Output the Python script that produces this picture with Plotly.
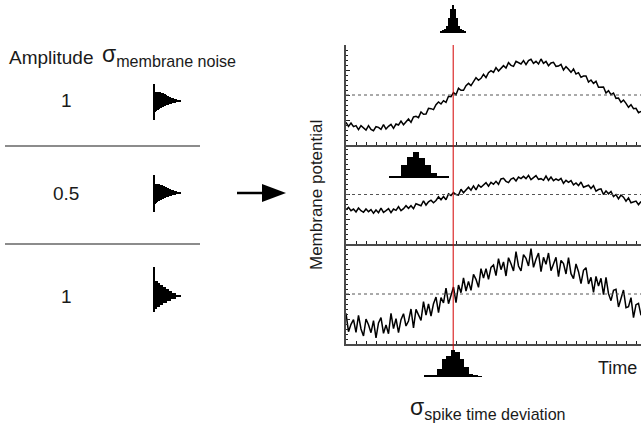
import plotly.graph_objects as go

W, H = 641, 424


def px(x):
    return x / W


def py(y):
    return 1 - y / H


# ---------------- data ----------------
TIME_STEP = 0.25  # time units per sample (1 unit = one tick on the time axis)

trace_top = [
    -0.82, -0.94, -0.84, -0.95, -0.92, -1.04, -0.92, -0.98, -1.05, -0.92,
    -1.03, -1.07, -0.95, -0.97, -1.03, -0.89, -1.02, -0.94, -0.88, -1.00,
    -0.87, -0.90, -0.78, -0.89, -0.80, -0.72, -0.82, -0.66, -0.64, -0.68,
    -0.51, -0.58, -0.57, -0.40, -0.41, -0.44, -0.29, -0.21, -0.27, -0.17,
    -0.22, -0.04, -0.05, 0.07, 0.01, 0.20, 0.14, 0.14, 0.28, 0.35,
    0.28, 0.40, 0.52, 0.44, 0.50, 0.62, 0.52, 0.67, 0.73, 0.68,
    0.82, 0.72, 0.81, 0.88, 0.81, 0.97, 0.89, 0.86, 1.01, 0.98,
    0.93, 1.03, 0.91, 1.03, 1.07, 0.95, 1.01, 0.93, 1.08, 0.95,
    1.01, 0.88, 0.96, 0.98, 0.86, 0.87, 0.92, 0.75, 0.85, 0.77,
    0.68, 0.78, 0.63, 0.67, 0.53, 0.57, 0.57, 0.39, 0.45, 0.35,
    0.41, 0.23, 0.24, 0.24, 0.06, 0.13, 0.01, 0.06, -0.10, -0.09,
    -0.22, -0.15, -0.25, -0.37, -0.29, -0.41, -0.40, -0.53, -0.49,
]

trace_mid = [
    -0.46, -0.39, -0.49, -0.44, -0.53, -0.41, -0.49, -0.54, -0.44, -0.52,
    -0.46, -0.57, -0.47, -0.55, -0.41, -0.54, -0.49, -0.43, -0.55, -0.44,
    -0.48, -0.37, -0.49, -0.43, -0.34, -0.42, -0.34, -0.43, -0.28, -0.31,
    -0.34, -0.19, -0.32, -0.22, -0.17, -0.25, -0.18, -0.07, -0.16, -0.06,
    -0.16, 0.02, -0.03, 0.06, 0.00, -0.02, 0.16, 0.05, 0.15, 0.22,
    0.13, 0.26, 0.14, 0.29, 0.22, 0.28, 0.36, 0.25, 0.37, 0.31,
    0.40, 0.31, 0.47, 0.49, 0.40, 0.36, 0.47, 0.50, 0.41, 0.53,
    0.48, 0.55, 0.48, 0.58, 0.45, 0.51, 0.57, 0.46, 0.48, 0.43,
    0.56, 0.43, 0.53, 0.42, 0.47, 0.43, 0.49, 0.34, 0.43, 0.37,
    0.42, 0.29, 0.35, 0.27, 0.38, 0.22, 0.25, 0.28, 0.18, 0.27,
    0.10, 0.15, 0.17, 0.00, 0.11, 0.02, 0.09, -0.06, 0.00, -0.13,
    -0.02, -0.08, -0.20, -0.10, -0.25, -0.23, -0.20, -0.31, -0.21,
]

trace_bot = [
    -0.58, -1.13, -0.91, -0.77, -1.15, -0.64, -1.05, -1.26, -0.75, -0.92,
    -1.16, -0.80, -1.32, -0.87, -0.71, -1.18, -0.93, -1.19, -0.58, -1.04,
    -0.74, -1.16, -0.77, -0.59, -0.96, -0.81, -0.45, -1.02, -0.46, -0.63,
    -0.79, -0.23, -0.63, -0.30, -0.66, -0.29, -0.09, -0.56, -0.11, -0.27,
    0.18, -0.29, 0.00, 0.21, -0.26, 0.27, 0.04, 0.48, 0.09, 0.38,
    0.11, 0.59, 0.44, 0.20, 0.76, 0.48, 0.76, 0.44, 0.80, 0.87,
    0.55, 1.06, 0.73, 0.96, 0.54, 1.09, 0.91, 0.69, 1.27, 0.84,
    0.69, 1.18, 1.07, 0.84, 1.36, 0.80, 1.04, 1.23, 0.67, 1.10,
    0.89, 1.23, 0.70, 0.92, 1.10, 0.52, 1.01, 0.91, 0.60, 1.09,
    0.61, 0.46, 0.90, 0.67, 0.31, 0.71, 0.79, 0.30, 0.50, 0.05,
    0.53, 0.24, 0.47, -0.02, 0.50, 0.01, -0.20, 0.11, 0.14, -0.39,
    -0.12, 0.12, -0.41, -0.38, -0.11, -0.71, -0.32, -0.28, -0.64,
]

time = [round(i * TIME_STEP, 2) for i in range(len(trace_top))]

spike_time = 10.72
threshold = 0.0

# spike-time histograms (bin centres on the time axis, counts)
top_spike_bins = [9.5, 9.7, 9.9, 10.1, 10.3, 10.5, 10.7, 10.9, 11.1, 11.3, 11.5, 11.7, 11.9]
top_spike_counts = [2, 3, 4, 7, 15, 24, 28, 24, 15, 7, 4, 3, 2]
top_spike_width = 0.2

mid_spike_bins = [4.6, 5.2, 5.8, 6.4, 7.0, 7.6, 8.2, 8.8, 9.4, 10.0]
mid_spike_counts = [2, 2, 13, 22, 27, 21, 13, 5, 2, 2]
mid_spike_width = 0.6

bot_spike_bins = [8.0, 8.45, 8.9, 9.35, 9.8, 10.25, 10.7, 11.15, 11.6, 12.05, 12.5, 12.95, 13.4]
bot_spike_counts = [2, 2, 2, 8, 18, 21, 27, 25, 18, 10, 3, 2, 1]
bot_spike_width = 0.45

# membrane-noise histograms (value bins, counts)
noise1_bins = [8, 7, 6, 5, 4, 3, 2, 1, 0, -1, -2, -3, -4, -5, -6, -7, -8, -9, -10]
noise1_counts = [6, 9, 11, 12, 14, 16, 19, 22, 26, 21, 17, 14, 11, 9, 7, 5, 4, 2, 1]
noise2_bins = [8, 7, 6, 5, 4, 3, 2, 1, 0, -1, -2, -3, -4, -5, -6, -7, -8, -9, -10]
noise2_counts = [5, 8, 10, 12, 14, 16, 19, 22, 26, 21, 17, 14, 11, 9, 7, 5, 3, 2, 1]
noise3_bins = [14, 12, 10, 8, 6, 4, 2, 0, -2, -4, -6, -8, -10, -12]
noise3_counts = [3, 5, 8, 11, 14, 17, 21, 26, 21, 16, 12, 8, 5, 2]

amplitudes = ["1", "0.5", "1"]

# ---------------- figure ----------------
FONT = "Liberation Sans, Arial, Helvetica, sans-serif"
INK = "#1a1a1a"
AXC = "#4a4a4a"

fig = go.Figure()

panel_px = [(45, 145), (145, 244), (244, 344)]
traces = [trace_top, trace_mid, trace_bot]
for k, tr in enumerate(traces, start=1):
    fig.add_trace(go.Scatter(x=time, y=tr, mode="lines",
                             line=dict(color="black", width=1.5),
                             xaxis=f"x{k}" if k > 1 else "x",
                             yaxis=f"y{k}" if k > 1 else "y",
                             hoverinfo="skip", showlegend=False))

hist_specs = [
    (4, top_spike_bins, top_spike_counts, top_spike_width, (5, 33)),
    (5, mid_spike_bins, mid_spike_counts, mid_spike_width, (151, 178)),
    (6, bot_spike_bins, bot_spike_counts, bot_spike_width, (349, 377)),
]
for k, bins, counts, wdt, _ in hist_specs:
    fig.add_trace(go.Bar(x=bins, y=counts, width=wdt,
                         marker=dict(color="black", line=dict(width=0)),
                         xaxis=f"x{k}", yaxis=f"y{k}",
                         hoverinfo="skip", showlegend=False))

noise_specs = [
    (7, noise1_bins, noise1_counts, 1.0, (84, 120), 101),
    (8, noise2_bins, noise2_counts, 1.0, (175, 212), 193),
    (9, noise3_bins, noise3_counts, 2.0, (267, 312), 296),
]
for k, bins, counts, wdt, _, _ in noise_specs:
    fig.add_trace(go.Bar(y=bins, x=counts, width=wdt, orientation="h",
                         marker=dict(color="black", line=dict(width=0)),
                         xaxis=f"x{k}", yaxis=f"y{k}",
                         hoverinfo="skip", showlegend=False))

layout = dict(
    width=W, height=H,
    margin=dict(l=0, r=0, t=0, b=0),
    paper_bgcolor="white", plot_bgcolor="rgba(0,0,0,0)",
    bargap=0, showlegend=False,
    font=dict(family=FONT, color=INK),
)

# membrane potential panels
for k, (top, bot) in enumerate(panel_px, start=1):
    xn = "xaxis" if k == 1 else f"xaxis{k}"
    yn = "yaxis" if k == 1 else f"yaxis{k}"
    layout[xn] = dict(domain=[px(346), 1], range=[0, 29.5],
                      anchor="y" if k == 1 else f"y{k}",
                      showline=True, linecolor=AXC, linewidth=1.5,
                      ticks="inside", ticklen=3, tickcolor="#222", tickwidth=1,
                      tick0=0, dtick=1, showticklabels=False,
                      showgrid=False, zeroline=False, fixedrange=True)
    layout[yn] = dict(domain=[py(bot), py(top)], range=[-1.5, 1.5],
                      anchor="x" if k == 1 else f"x{k}",
                      showline=True, linecolor=AXC, linewidth=1.5,
                      ticks="inside", ticklen=4, tickcolor="#222", tickwidth=1,
                      tick0=-1.5, dtick=0.75, showticklabels=False,
                      minor=dict(ticks="inside", ticklen=2, tickcolor="#222",
                                 dtick=0.15, tick0=-1.5, showgrid=False),
                      showgrid=False, zeroline=False, fixedrange=True)

# spike-time histograms share the time scale
for k, _, counts, _, (top, bot) in hist_specs:
    layout[f"xaxis{k}"] = dict(domain=[px(346), 1], range=[0, 29.5],
                               anchor=f"y{k}", visible=False, fixedrange=True)
    layout[f"yaxis{k}"] = dict(domain=[py(bot), py(top)], range=[0, 28],
                               anchor=f"x{k}", visible=False, fixedrange=True)

# membrane-noise histograms
for k, _, _, _, (top, bot), centre in noise_specs:
    layout[f"xaxis{k}"] = dict(domain=[px(155), px(185)], range=[0, 30],
                               anchor=f"y{k}", visible=False, fixedrange=True)
    layout[f"yaxis{k}"] = dict(domain=[py(bot), py(top)],
                               range=[centre - bot, centre - top],
                               anchor=f"x{k}", showline=True, linecolor="black",
                               linewidth=1.5, ticks="", showticklabels=False,
                               showgrid=False, zeroline=False, fixedrange=True)

fig.update_layout(**layout)

shapes = []
# threshold lines
for k in (1, 2, 3):
    xr = "x" if k == 1 else f"x{k}"
    yr = "y" if k == 1 else f"y{k}"
    shapes.append(dict(type="line", xref=f"{xr} domain", yref=yr,
                       x0=0, x1=1, y0=threshold, y1=threshold,
                       line=dict(color="#555", width=1, dash="dot")))
# spike time line
shapes.append(dict(type="line", xref="x", yref="paper",
                   x0=spike_time, x1=spike_time, y0=py(350), y1=py(45),
                   line=dict(color="#d40000", width=1), layer="above"))
# separators on the left
for yy in (146, 244):
    shapes.append(dict(type="line", xref="paper", yref="paper",
                       x0=px(5), x1=px(200), y0=py(yy), y1=py(yy),
                       line=dict(color="#666", width=1.5)))
# arrow
shapes.append(dict(type="line", xref="paper", yref="paper",
                   x0=px(237), x1=px(266), y0=py(193), y1=py(193),
                   line=dict(color="black", width=2.5)))
shapes.append(dict(type="path", xref="paper", yref="paper",
                   path=f"M {px(262)} {py(184)} L {px(286)} {py(193)} L {px(262)} {py(202)} Z",
                   fillcolor="black", line=dict(color="black", width=0)))
fig.update_layout(shapes=shapes)

ann = []


def label(x, y, text, size, xanchor="center", textangle=0):
    ann.append(dict(x=px(x), y=py(y), xref="paper", yref="paper", text=text,
                    showarrow=False, xanchor=xanchor, yanchor="middle",
                    textangle=textangle, font=dict(size=size, color=INK, family=FONT)))


label(7, 57, "Amplitude", 19, xanchor="left")
label(100, 55, "σ<sub>membrane noise</sub>", 23, xanchor="left")
for amp, yy in zip(amplitudes, (100, 193, 296)):
    label(66, yy, amp, 19)
label(316, 195, "Membrane potential", 17, textangle=-90)
label(596, 368, "Time", 18, xanchor="left")
label(408, 408, "σ<sub>spike time deviation</sub>", 23, xanchor="left")
fig.update_layout(annotations=ann)

fig.write_html("out.html")
